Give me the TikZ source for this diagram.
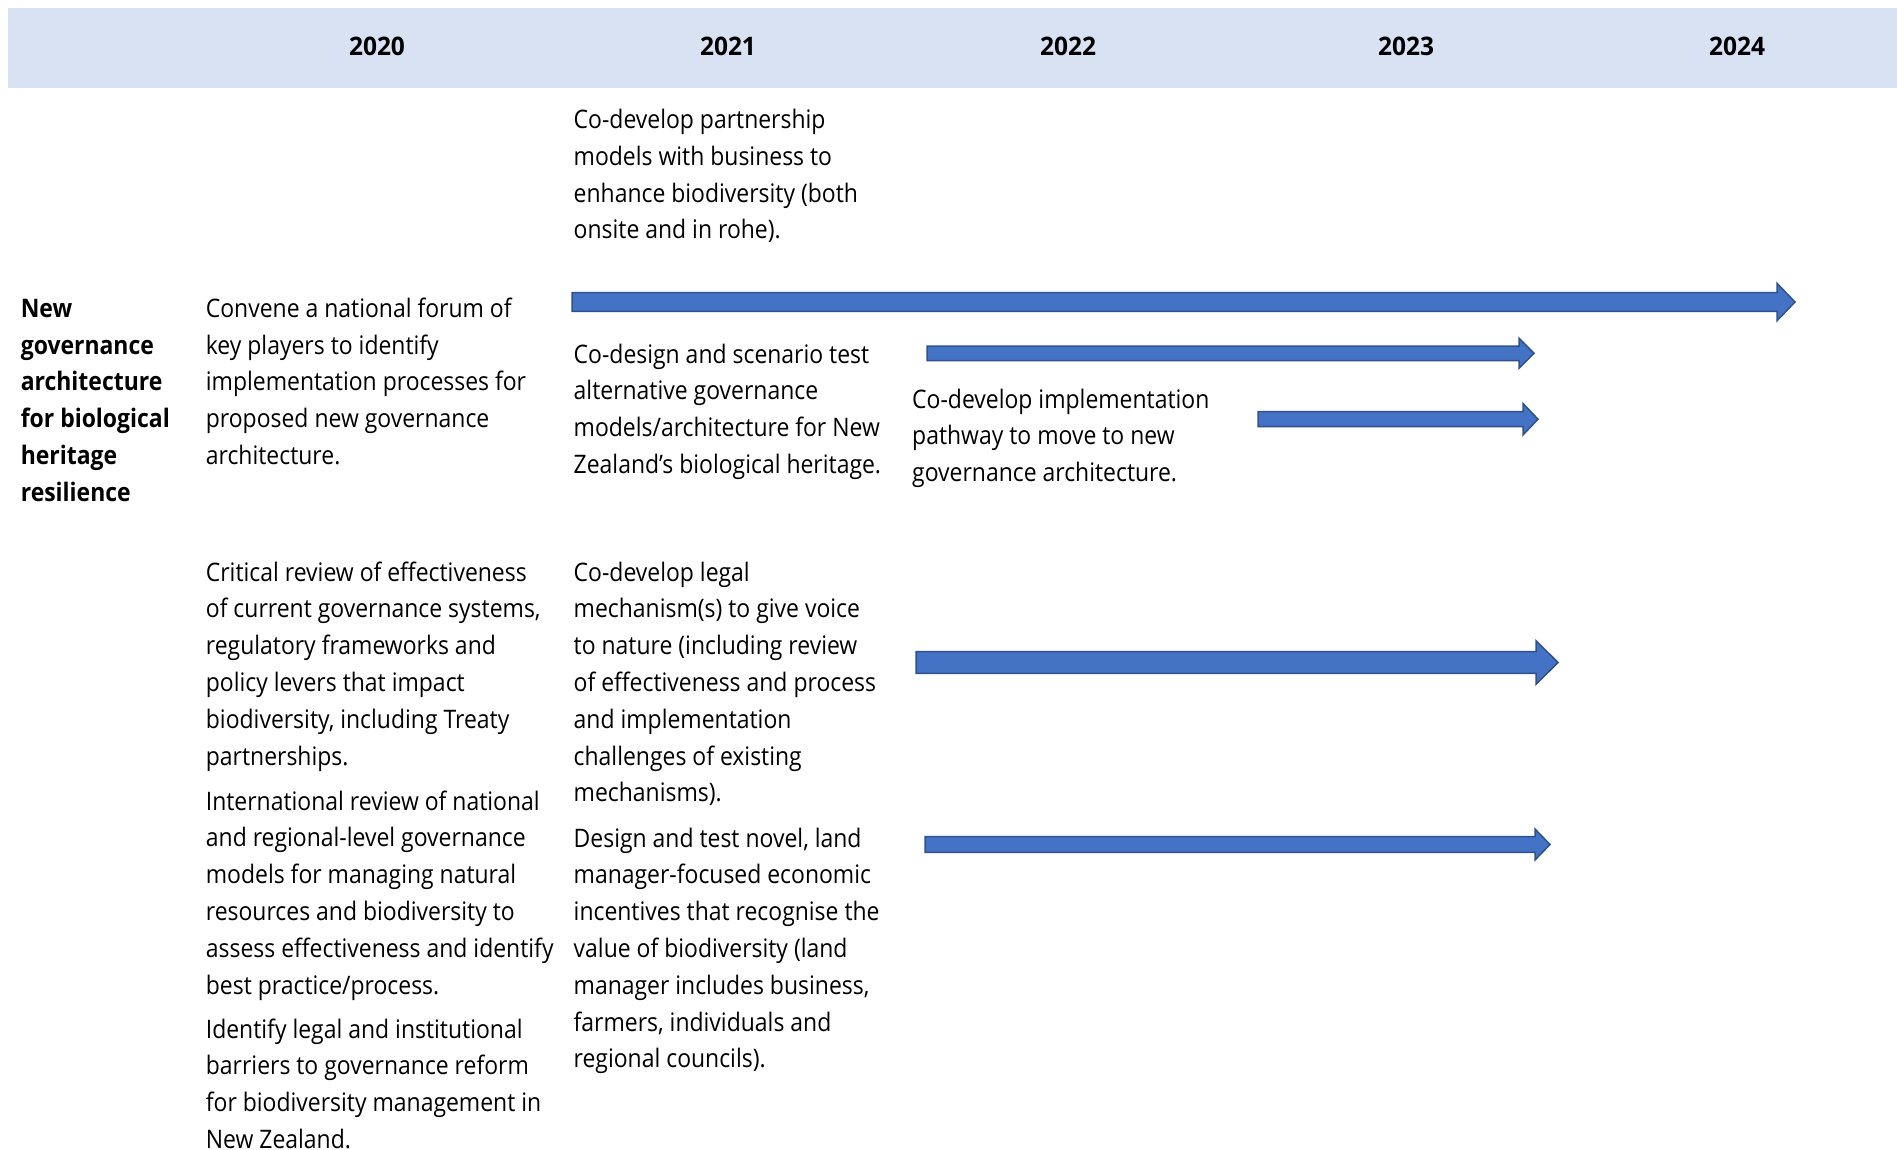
\documentclass[tikz,border=0pt]{standalone}
\usepackage{fontspec}
\setmainfont{Open Sans}[FakeStretch=0.9]
\newfontfamily\yearfont{Open Sans}[FakeStretch=0.96]
\definecolor{bandblue}{HTML}{D9E2F3}
\definecolor{arrowfill}{HTML}{4472C4}
\definecolor{arrowline}{HTML}{2F528F}
\tikzset{
  txt/.style={anchor=north west, inner sep=0pt, align=left,
    font=\fontsize{25.5}{36.8}\selectfont},
  hdr/.style={txt, font=\fontsize{25.5}{36.8}\selectfont\bfseries},
  year/.style={anchor=base, inner sep=0pt, font=\yearfont\fontsize{25.5}{30}\selectfont\bfseries},
  blockarrow/.style={fill=arrowfill, draw=arrowline, line width=1.5pt, line join=miter}
}
% block arrow: left x, head base x, tip x, centre y, shaft half height, head half height
\newcommand\timearrow[6]{%
  \draw[blockarrow] (#1,#4-#5) -- (#2,#4-#5) -- (#2,#4-#6) -- (#3,#4)
    -- (#2,#4+#6) -- (#2,#4+#5) -- (#1,#4+#5) -- cycle;}
\begin{document}
\begin{tikzpicture}[x=1pt,y=-1pt]
\useasboundingbox (0,0) rectangle (1897,1150);
\fill[white] (0,0) rectangle (1897,1150);

% header band with the years
\fill[bandblue] (8,8) rectangle (1897,88);
\node[year] (y2020) at (377,56) {2020};
\node[year] (y2021) at (728,56) {2021};
\node[year] (y2022) at (1068,56) {2022};
\node[year] (y2023) at (1406,56) {2023};
\node[year] (y2024) at (1737,56) {2024};

% row heading
\node[hdr] (theme) at (20.6,291.4) {\strut New\\governance\\architecture\\for biological\\heritage\\resilience};

% 2020 column
\node[txt] (forum) at (205.7,291.4) {\strut Convene a national forum of\\key players to identify\\implementation processes for\\proposed new governance\\architecture.};
\node[txt] (critical) at (205.7,555.2) {\strut Critical review of effectiveness\\of current governance systems,\\regulatory frameworks and\\policy levers that impact\\biodiversity, including Treaty\\partnerships.};
\node[txt] (intl) at (205.7,784.2) {\strut International review of national\\and regional-level governance\\models for managing natural\\resources and biodiversity to\\assess effectiveness and identify\\best practice/process.};
\node[txt] (barriers) at (205.7,1012.2) {\strut Identify legal and institutional\\barriers to governance reform\\for biodiversity management in\\New Zealand.};

% 2021 column
\node[txt] (partner) at (573.5,102.6) {\strut Co-develop partnership\\models with business to\\enhance biodiversity (both\\onsite and in rohe).};
\node[txt] (codesign) at (573.5,337.2) {\strut Co-design and scenario test\\alternative governance\\models/architecture for New\\Zealand{\char"0027}s biological heritage.};
\node[txt] (legal) at (573.5,555.2) {\strut Co-develop legal\\mechanism(s) to give voice\\to nature (including review\\of effectiveness and process\\and implementation\\challenges of existing\\mechanisms).};
\node[txt] (incent) at (573.5,821.2) {\strut Design and test novel, land\\manager-focused economic\\incentives that recognise the\\value of biodiversity (land\\manager includes business,\\farmers, individuals and\\regional councils).};

% 2022 column
\node[txt] (pathway) at (912,382.2) {\strut Co-develop implementation\\pathway to move to new\\governance architecture.};

% duration arrows
\timearrow{572}{1777}{1795}{302}{9.3}{18.7}
\timearrow{927}{1519}{1534}{353.3}{7.3}{15}
\timearrow{1258}{1523}{1538}{419.2}{7.5}{15.7}
\timearrow{916}{1536}{1558}{662.5}{10.8}{21.8}
\timearrow{925}{1535}{1550}{844.5}{7.8}{15.5}
\end{tikzpicture}
\end{document}
